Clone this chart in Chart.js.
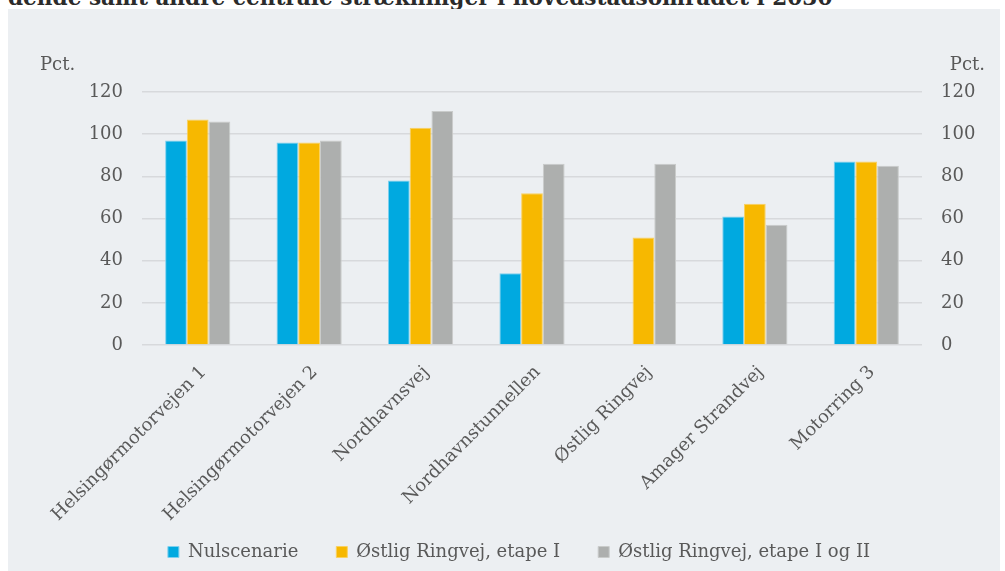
<!DOCTYPE html>
<html lang="da">
<head>
<meta charset="utf-8">
<title>Trafikbelastning</title>
<script src="https://cdn.jsdelivr.net/npm/chart.js@4/dist/chart.umd.min.js"></script>
<style>
  html, body { margin: 0; padding: 0; background: #ffffff; width: 1005px; height: 571px; overflow: hidden; }
  #heading {
    position: absolute; left: 8px; top: -13px; margin: 0;
    font: bold 21.6px/21px "DejaVu Serif", serif; color: #2b2b2b; white-space: nowrap;
  }
  #panel {
    position: absolute; left: 8px; top: 9px; width: 992px; height: 562px; background: #ECEFF2;
  }
  #chart { display: block; }
</style>
</head>
<body>
<div id="heading">dende samt andre centrale strækninger i hovedstadsområdet i 2030</div>
<div id="panel"><canvas id="chart" width="992" height="562"></canvas></div>
<script>
// Strækninger langs x-aksen
const categories = [
  'Helsingørmotorvejen 1',
  'Helsingørmotorvejen 2',
  'Nordhavnsvej',
  'Nordhavnstunnellen',
  'Østlig Ringvej',
  'Amager Strandvej',
  'Motorring 3'
];

// Belastning i procent for hvert scenarie
const nulscenarie = [97, 96, 78, 34, null, 61, 87];
const etapeI = [107, 96, 103, 72, 51, 67, 87];
const etapeIogII = [106, 97, 111, 86, 86, 57, 85];

const seriesNames = ['Nulscenarie', 'Østlig Ringvej, etape I', 'Østlig Ringvej, etape I og II'];

// Akseinddeling
const yMin = 0;
const yMax = 120;
const yStep = 20;
const unitLabel = 'Pct.';

const FONT = '"DejaVu Serif", serif';
const TEXT = '#595959';

// Enhedsmærkat over begge y-akser
const unitPlugin = {
  id: 'unitLabels',
  afterDraw(chart) {
    const ctx = chart.ctx;
    ctx.save();
    ctx.font = '18px ' + FONT;
    ctx.fillStyle = TEXT;
    ctx.textBaseline = 'middle';
    ctx.textAlign = 'left';
    ctx.fillText(unitLabel, 32, 56);
    ctx.textAlign = 'right';
    ctx.fillText(unitLabel, 977, 56);
    ctx.restore();
  }
};

const tickFont = { family: FONT, size: 18 };

new Chart(document.getElementById('chart'), {
  type: 'bar',
  data: {
    labels: categories,
    datasets: [
      { label: seriesNames[0], data: nulscenarie, backgroundColor: '#00A9E0', borderColor: '#7FD0EE', borderWidth: 1 },
      { label: seriesNames[1], data: etapeI, backgroundColor: '#F7B800', borderColor: '#F9D160', borderWidth: 1 },
      { label: seriesNames[2], data: etapeIogII, backgroundColor: '#ADAFAE', borderColor: '#C9CBCA', borderWidth: 1 }
    ]
  },
  options: {
    responsive: false,
    animation: false,
    categoryPercentage: 0.585,
    barPercentage: 1,
    layout: { padding: { left: 30, right: 0, top: 83, bottom: 0 } },
    plugins: {
      legend: {
        position: 'bottom',
        labels: {
          font: { family: FONT, size: 18 },
          color: TEXT,
          boxWidth: 11,
          boxHeight: 11,
          padding: 38
        }
      },
      tooltip: { enabled: false },
      title: { display: false }
    },
    scales: {
      x: {
        grid: { display: false },
        border: { display: false },
        ticks: {
          font: tickFont,
          color: TEXT,
          minRotation: 45,
          maxRotation: 45,
          // mirrored so the long slanted names are not clipped to the axis box
          mirror: true,
          padding: -32,
          labelOffset: 21
        },
        afterFit(scale) { scale.height = 160; }
      },
      y: {
        position: 'left',
        min: yMin,
        max: yMax,
        grid: { color: '#D7D9DC', lineWidth: 1.5, drawTicks: false },
        border: { display: false },
        ticks: { stepSize: yStep, font: tickFont, color: TEXT, padding: 19 },
        afterFit(scale) { scale.width = 104; }
      },
      y2: {
        position: 'right',
        min: yMin,
        max: yMax,
        grid: { drawOnChartArea: false, drawTicks: false },
        border: { display: false },
        ticks: { stepSize: yStep, font: tickFont, color: TEXT, padding: 19 },
        afterFit(scale) { scale.width = 78; }
      }
    }
  },
  plugins: [unitPlugin]
});
</script>
</body>
</html>
